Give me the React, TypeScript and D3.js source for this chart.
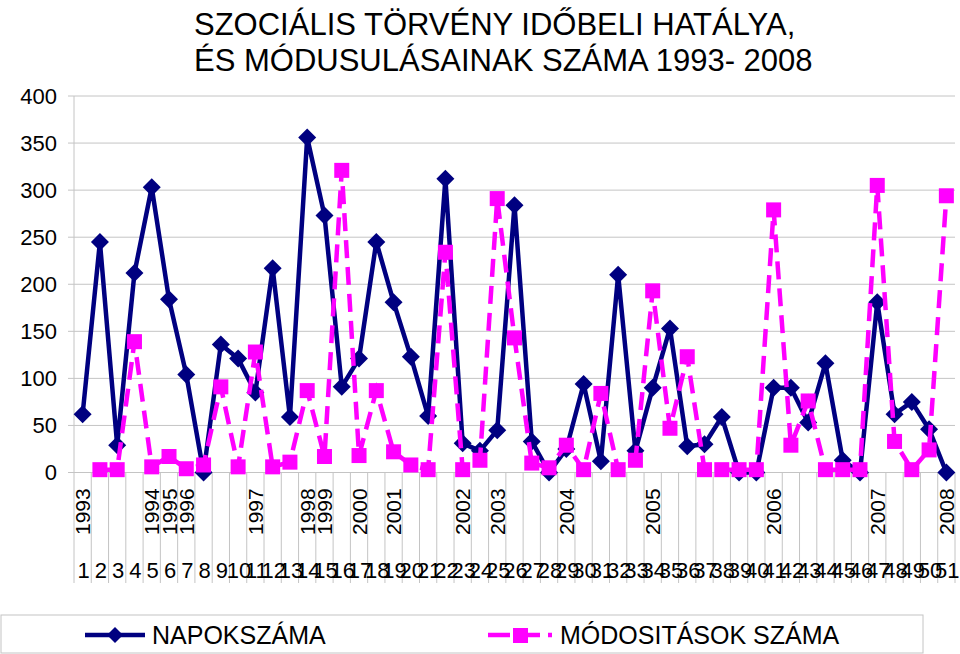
import * as d3 from 'd3';

// chart data
const categories = d3.range(1, 52).map(String);

const napokSzama = [
  62, 245, 29, 212, 303, 184, 104, 0, 136, 121,
  85, 217, 59, 356, 273, 91, 121, 245, 181, 123,
  60, 312, 31, 23, 45, 284, 33, 0, 25, 94,
  12, 210, 23, 90, 153, 28, 30, 59, 0, 0,
  90, 90, 53, 116, 13, 0, 181, 62, 75, 46, 0,
];

const modositasokSzama: (number | null)[] = [
  null, 3, 3, 139, 6, 17, 4, 8, 91, 6,
  128, 6, 11, 87, 17, 321, 18, 87, 22, 8,
  3, 234, 3, 13, 291, 143, 10, 5, 29, 3,
  84, 3, 13, 193, 47, 123, 3, 3, 3, 3,
  279, 29, 76, 3, 3, 3, 305, 33, 3, 24, 294,
];

const yearCats = ['1', '5', '6', '7', '11', '14', '15', '17', '19', '23', '25', '29', '34', '41', '47', '51'];
const yearTexts = ['1993', '1994', '1995', '1996', '1997', '1998', '1999', '2000', '2001', '2002', '2003', '2004', '2005', '2006', '2007', '2008'];

const yTicks = [0, 50, 100, 150, 200, 250, 300, 350, 400];

const titleLines = ['SZOCIÁLIS TÖRVÉNY IDŐBELI HATÁLYA,', 'ÉS MÓDUSULÁSAINAK SZÁMA 1993- 2008'];
const seriesNames = ['NAPOKSZÁMA', 'MÓDOSITÁSOK SZÁMA'];

const W = 960;
const H = 654;
const left = 74;
const right = 955;
const top = 96;
const bottom = 472.5;
const font = 'Liberation Sans, Arial, sans-serif';
const navy = '#000080';
const magenta = '#ff00ff';
const grid = '#c4c4c4';

const x = d3.scaleBand<string>().domain(categories).range([left, right]).paddingInner(0).paddingOuter(0);
const cx = (c: string) => (x(c) as number) + x.bandwidth() / 2;
const y = d3.scaleLinear().domain([0, 400]).range([bottom, top]);

const lineNavy = d3.line<number>()
  .x((_, i) => cx(categories[i]))
  .y((d) => y(d));

const lineMag = d3.line<number | null>()
  .defined((d) => d !== null)
  .x((_, i) => cx(categories[i]))
  .y((d) => y(d as number));

const diamond = (px: number, py: number, r: number) =>
  `M${px},${py - r}L${px + r},${py}L${px},${py + r}L${px - r},${py}Z`;

export default function App() {
  const sq = 15;
  return (
    <svg width={W} height={H} style={{ position: 'absolute', left: 0, top: 0, background: '#fff' }} fontFamily={font}>
      {/* title */}
      {titleLines.map((t, i) => (
        <text key={t} x={194} y={35 + i * 36} fontSize={31} fill="#000">{t}</text>
      ))}

      {/* horizontal gridlines + y labels */}
      {yTicks.map((v) => (
        <g key={v}>
          <line x1={left - 6} x2={right} y1={y(v)} y2={y(v)} stroke={grid} strokeWidth={1} />
          <text x={57} y={y(v)} dy="0.36em" textAnchor="end" fontSize={22} fill="#000">{v}</text>
        </g>
      ))}
      <line x1={left} x2={left} y1={top} y2={583} stroke={grid} strokeWidth={1} />

      {/* category separators */}
      {categories.map((c) => (
        <line key={c} x1={(x(c) as number) + x.bandwidth()} x2={(x(c) as number) + x.bandwidth()}
          y1={bottom} y2={583} stroke={grid} strokeWidth={1} />
      ))}

      {/* year labels */}
      {yearCats.map((c, i) => (
        <text key={c} transform={`translate(${cx(c)},535) rotate(-90)`} dy="0.36em" fontSize={21} fill="#000">
          {yearTexts[i]}
        </text>
      ))}

      {/* number labels */}
      {categories.map((c) => (
        <text key={c} x={cx(c) + 1} y={578} textAnchor="middle" fontSize={22} fill="#000">{c}</text>
      ))}

      {/* NAPOKSZÁMA */}
      <path d={lineNavy(napokSzama) ?? ''} fill="none" stroke={navy} strokeWidth={4.5} strokeLinejoin="round" />
      {napokSzama.map((v, i) => (
        <path key={i} d={diamond(cx(categories[i]), y(v), 9)} fill={navy} />
      ))}

      {/* MÓDOSITÁSOK SZÁMA */}
      <path d={lineMag(modositasokSzama) ?? ''} fill="none" stroke={magenta} strokeWidth={4.5} strokeDasharray="18,9" />
      {modositasokSzama.map((v, i) =>
        v === null ? null : (
          <rect key={i} x={cx(categories[i]) - sq / 2} y={y(v) - sq / 2} width={sq} height={sq} fill={magenta} />
        ),
      )}

      {/* legend */}
      <rect x={1} y={615} width={922} height={38} fill="none" stroke={grid} strokeWidth={1} />
      <line x1={85} x2={145} y1={635} y2={635} stroke={navy} strokeWidth={4.5} />
      <path d={diamond(115, 635, 8)} fill={navy} />
      <text x={152} y={644} fontSize={25} fill="#000">{seriesNames[0]}</text>
      <line x1={488} x2={552} y1={635} y2={635} stroke={magenta} strokeWidth={4.5} strokeDasharray="22,8" />
      <rect x={513} y={628} width={15} height={15} fill={magenta} />
      <text x={560} y={644} fontSize={25} fill="#000">{seriesNames[1]}</text>
    </svg>
  );
}
